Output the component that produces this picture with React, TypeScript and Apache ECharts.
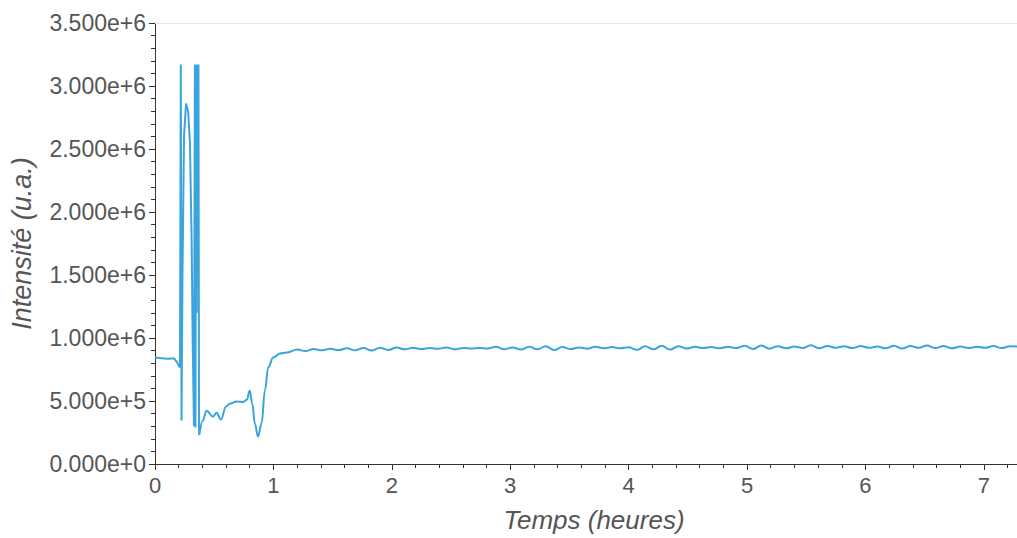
import React, { useEffect, useRef } from "react";
import * as echarts from "echarts";

// Time in hours, intensity in thousands (u.a. / 1000)
const sharpTimes = [0, 0.04, 0.08, 0.12, 0.16, 0.18, 0.211, 0.218, 0.224, 0.232, 0.245, 0.262, 0.28, 0.295, 0.309, 0.318, 0.329, 0.337, 0.342, 0.347, 0.352, 0.357, 0.362, 0.367, 0.372, 0.38];
const sharpValuesK = [846, 842, 838, 836, 840, 815, 767, 3170, 345, 1500, 2600, 2860, 2800, 2550, 1800, 1000, 300, 3170, 290, 3170, 1200, 3170, 1500, 3170, 230, 258];

const smoothTimes = [0.38, 0.40, 0.437, 0.49, 0.52, 0.557, 0.60, 0.63, 0.69, 0.745, 0.775, 0.80, 0.822, 0.843, 0.87, 0.90, 0.928, 0.956, 0.998, 1.056, 1.112,
  1.20, 1.27, 1.34, 1.41, 1.48, 1.55, 1.62, 1.69, 1.76, 1.83, 1.90, 1.97, 2.04, 2.11, 2.18, 2.25, 2.32, 2.39, 2.46, 2.53, 2.60, 2.67, 2.74, 2.81, 2.88, 2.95,
  3.02, 3.09, 3.16, 3.23, 3.30, 3.37, 3.44, 3.51, 3.58, 3.65, 3.72, 3.79, 3.86, 3.93, 4.00, 4.07, 4.14, 4.21, 4.28, 4.35, 4.42, 4.49, 4.56, 4.63, 4.70,
  4.77, 4.84, 4.91, 4.98, 5.05, 5.12, 5.19, 5.26, 5.33, 5.40, 5.47, 5.54, 5.61, 5.68, 5.75, 5.82, 5.89, 5.96, 6.03, 6.10, 6.17, 6.24, 6.31, 6.38, 6.45,
  6.52, 6.59, 6.66, 6.73, 6.80, 6.87, 6.94, 7.01, 7.08, 7.15, 7.22, 7.29];
const smoothValuesK = [258, 340, 423, 376, 407, 352, 456, 478, 496, 493, 509, 582, 478, 321, 219, 321, 582, 767, 846, 877, 885,
  908, 896, 912, 903, 914, 904, 918, 902, 920, 900, 922, 905, 924, 910, 922, 912, 921, 914, 925, 910, 920, 916, 920, 917, 930, 910,
  925, 908, 930, 910, 935, 905, 928, 912, 925, 915, 930, 918, 928, 918, 926, 906, 934, 910, 938, 908, 935, 916, 930, 920, 928,
  918, 930, 920, 938, 912, 940, 915, 935, 918, 932, 920, 942, 918, 936, 922, 934, 920, 936, 922, 932, 918, 938, 916, 936, 922,
  940, 920, 936, 918, 932, 920, 930, 922, 936, 920, 934, 932];

const xTitle = "Temps (heures)";
const yTitle = "Intensité (u.a.)";

const FONT = "'Liberation Sans', Arial, Helvetica, sans-serif";
const LINE_COLOR = "#3ca4dd";
const AXIS_COLOR = "#333333";
const LABEL_COLOR = "#555555";

export default function App() {
  const ref = useRef<HTMLDivElement>(null);
  useEffect(() => {
    if (!ref.current) return;
    const chart = echarts.init(ref.current, undefined, { renderer: "svg" });
    const sharp = sharpTimes.map((t, i) => [t, sharpValuesK[i] * 1000]);
    const smooth = smoothTimes.map((t, i) => [t, smoothValuesK[i] * 1000]);
    chart.setOption({
      animation: false,
      textStyle: { fontFamily: FONT },
      grid: { left: 155, right: 0, top: 23, bottom: 67, containLabel: false },
      xAxis: [
        {
          type: "value",
          min: 0,
          max: 7.28,
          interval: 1,
          name: xTitle,
          nameLocation: "middle",
          nameGap: 43,
          nameTextStyle: { fontSize: 26, fontStyle: "italic", color: LABEL_COLOR, fontFamily: FONT, padding: [0, 0, 0, 16] },
          axisLine: { show: true, lineStyle: { color: AXIS_COLOR, width: 1 } },
          axisTick: { show: true, length: 6, lineStyle: { color: AXIS_COLOR } },
          minorTick: { show: true, splitNumber: 5, length: 4, lineStyle: { color: AXIS_COLOR } },
          axisLabel: { fontSize: 22, color: LABEL_COLOR, margin: 10, showMaxLabel: false, fontFamily: FONT },
          splitLine: { show: false },
        },
        {
          type: "value",
          position: "top",
          min: 0,
          max: 7.28,
          axisLine: { show: true, lineStyle: { color: "#e6e6e6", width: 1 } },
          axisTick: { show: false },
          axisLabel: { show: false },
          splitLine: { show: false },
        },
      ],
      yAxis: {
        type: "value",
        min: 0,
        max: 3500000,
        interval: 500000,
        name: yTitle,
        nameLocation: "middle",
        nameGap: 120,
        nameTextStyle: { fontSize: 27, fontStyle: "italic", color: LABEL_COLOR, fontFamily: FONT },
        axisLine: { show: true, lineStyle: { color: AXIS_COLOR, width: 1 } },
        axisTick: { show: true, length: 6, lineStyle: { color: AXIS_COLOR } },
        minorTick: { show: true, splitNumber: 5, length: 4, lineStyle: { color: AXIS_COLOR } },
        axisLabel: {
          fontSize: 23,
          color: LABEL_COLOR,
          margin: 9,
          fontFamily: FONT,
          formatter: (v: number) => v.toExponential(3),
        },
        splitLine: { show: false },
      },
      series: [
        {
          type: "line",
          xAxisIndex: 0,
          data: sharp,
          showSymbol: false,
          symbol: "none",
          lineStyle: { color: LINE_COLOR, width: 2 },
          itemStyle: { color: LINE_COLOR },
        },
        {
          type: "line",
          xAxisIndex: 0,
          data: smooth,
          smooth: 0.4,
          smoothMonotone: "x",
          showSymbol: false,
          symbol: "none",
          lineStyle: { color: LINE_COLOR, width: 2 },
          itemStyle: { color: LINE_COLOR },
        },
      ],
    });
    return () => chart.dispose();
  }, []);
  return (
    <div
      ref={ref}
      style={{ position: "fixed", left: 0, top: 0, width: 1017, height: 538, background: "#fff" }}
    />
  );
}
